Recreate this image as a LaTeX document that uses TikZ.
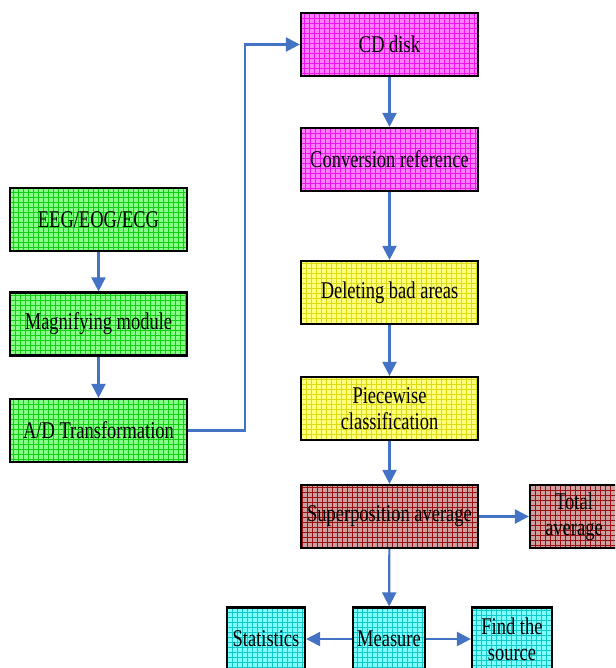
\documentclass[tikz,border=0pt]{standalone}
\usepackage{fontspec}
\setmainfont[FakeStretch=0.77]{Liberation Serif}
\usepackage{tikz}
\usetikzlibrary{arrows.meta, positioning, shadows}
\definecolor{flowblue}{HTML}{4472C4}
\definecolor{greenbg}{HTML}{88FF88}
\definecolor{greengrid}{HTML}{10D010}
\definecolor{pinkbg}{HTML}{FF80FF}
\definecolor{pinkgrid}{HTML}{F010F0}
\definecolor{yellowbg}{HTML}{FFFF80}
\definecolor{yellowgrid}{HTML}{DCDC10}
\definecolor{brownbg}{HTML}{CCA0A0}
\definecolor{browngrid}{HTML}{9A1010}
\definecolor{cyanbg}{HTML}{80FFFF}
\definecolor{cyangrid}{HTML}{10C8C8}

\tikzset{
  gridbox/.style n args={2}{draw=black, line width=2.2pt, fill=#1,
    minimum width=177pt, minimum height=63pt, inner sep=1pt, align=center,
    font=\fontsize{24}{26}\selectfont,
    drop shadow={shadow xshift=1.2pt, shadow yshift=-1.2pt, opacity=.35},
    path picture={\draw[#2, line width=.35pt, step=5pt]
      (path picture bounding box.south west) grid (path picture bounding box.north east);}},
  greenbox/.style={gridbox={greenbg}{greengrid}},
  pinkbox/.style={gridbox={pinkbg}{pinkgrid}},
  yellowbox/.style={gridbox={yellowbg}{yellowgrid}},
  brownbox/.style={gridbox={brownbg}{browngrid}},
  cyanbox/.style={gridbox={cyanbg}{cyangrid}, minimum width=78pt},
  flow/.style={draw=flowblue, line width=2.2pt, -{Triangle[length=14pt,width=14pt]}}
}

\begin{document}
\begin{tikzpicture}[x=1pt, y=-1pt]
  \useasboundingbox (0,0) rectangle (615,668);
  \clip (0,0) rectangle (615,668);

  % left column
  \node[greenbox] (eeg) at (98.5,219.5) {EEG/EOG/ECG};
  \node[greenbox] (magnify) at (98.5,324) {Magnifying module};
  \node[greenbox] (adconv) at (98.5,430.5) {A/D Transformation};

  % right column
  \node[pinkbox] (cddisk) at (389.5,44.5) {CD disk};
  \node[pinkbox] (convref) at (389.5,159.5) {Conversion reference};
  \node[yellowbox] (badarea) at (389.5,292.5) {Deleting bad areas};
  \node[yellowbox] (piecewise) at (389.5,408.5) {Piecewise\\classification};
  \node[brownbox] (superpos) at (389.5,516.5) {Superposition average};
  \node[brownbox, minimum width=88pt] (totalavg) at (574,516.5) {Total\\average};

  % bottom row
  \node[cyanbox] (stats) at (266,639) {Statistics};
  \node[cyanbox, minimum width=72pt] (measure) at (389,639) {Measure};
  \node[cyanbox, minimum width=80pt] (source) at (512,639) {Find the\\source};

  \coordinate (bendlow) at (245,430.5);
  \coordinate (bendtop) at (245,44.5);

  \draw[flow] (eeg) -- (magnify);
  \draw[flow] (magnify) -- (adconv);
  \draw[flow] (adconv.east) -- (bendlow) -- (bendtop) -- (cddisk.west);
  \draw[flow] (cddisk) -- (convref);
  \draw[flow] (convref) -- (badarea);
  \draw[flow] (badarea) -- (piecewise);
  \draw[flow] (piecewise) -- (superpos);
  \draw[flow] (superpos) -- (totalavg);
  \draw[flow] (superpos) -- (measure);
  \draw[flow] (measure) -- (stats);
  \draw[flow] (measure) -- (source);
\end{tikzpicture}
\end{document}
